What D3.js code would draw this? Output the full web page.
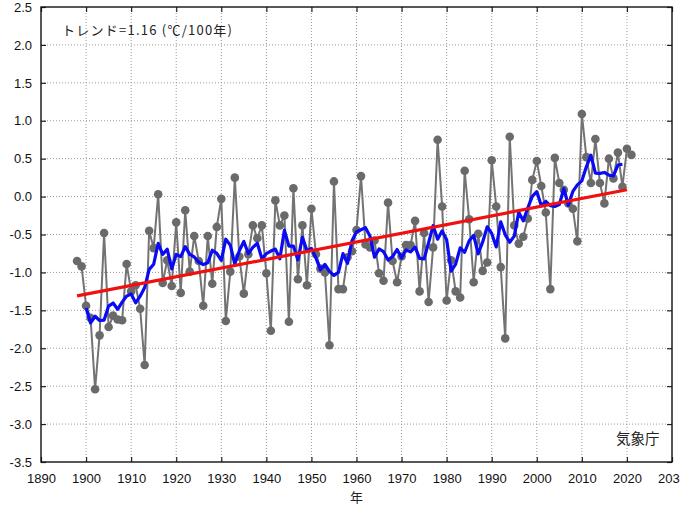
<!DOCTYPE html>
<html>
<head>
<meta charset="utf-8">
<title>年平均気温偏差</title>
<script src="https://d3js.org/d3.v7.min.js" charset="utf-8"></script>
<style>
  html, body { margin: 0; padding: 0; background: #fff; }
  svg { display: block; }
</style>
</head>
<body>
<script>
// data
const firstYear = 1898;
const anomalies = [
  -0.85, -0.92, -1.44, -1.60, -2.54, -1.83, -0.48, -1.72, -1.57, -1.62, // 1898-1907
  -1.63, -0.89, -1.25, -1.17, -1.48, -2.22, -0.45, -0.68,  0.03, -1.14, // 1908-1917
  -0.84, -1.18, -0.34, -1.27, -0.18, -0.99, -0.52, -0.85, -1.44, -0.52, // 1918-1927
  -1.15, -0.40, -0.03, -1.64, -0.99,  0.25, -0.79, -1.28, -0.76, -0.38, // 1928-1937
  -0.55, -0.38, -1.01, -1.77, -0.05, -0.38, -0.25, -1.65,  0.11, -1.09, // 1938-1947
  -0.38, -1.17, -0.16, -0.76, -0.95, -1.00, -1.96,  0.20, -1.22, -1.22, // 1948-1957
  -0.80, -0.72, -0.44,  0.27, -0.63, -0.67, -0.58, -1.01, -1.11, -0.08, // 1958-1967
  -0.85, -1.13, -0.79, -0.64, -0.64, -0.32, -1.25, -0.48, -1.39, -0.67, // 1968-1977
   0.75, -0.13, -1.37, -0.84, -1.25, -1.33,  0.34, -0.30, -1.13, -0.49, // 1978-1987
  -0.98, -0.87,  0.48, -0.13, -0.93, -1.87,  0.79, -0.38, -0.62, -0.53, // 1988-1997
  -0.29,  0.22,  0.47,  0.14, -0.21, -1.22,  0.51,  0.18,  0.09, -0.09, // 1998-2007
  -0.16, -0.59,  1.09,  0.52,  0.18,  0.76,  0.18, -0.09,  0.50,  0.24, // 2008-2017
   0.58,  0.13,  0.63,  0.55                                             // 2018-2021
];
const years = anomalies.map((v, i) => firstYear + i);

// trend line end points
const trendYears = [1898, 2020];
const trendValues = [-1.31, 0.09];

const xTicks = d3.range(1890, 2031, 10);
const yTicks = d3.range(-3.5, 2.51, 0.5);

const trendLabel = "トレンド=1.16 (℃/100年)";
const sourceLabel = "気象庁";
const xTitle = "年";

// 5-year centred running mean of the annual values
const running = [];
for (let i = 2; i < anomalies.length - 2; i++) {
  running.push({ year: years[i], value: d3.mean(anomalies.slice(i - 2, i + 3)) });
}

const width = 680, height = 513;
const margin = { top: 7, right: 8, bottom: 51, left: 41 };

const svg = d3.select("body").append("svg")
  .attr("width", width)
  .attr("height", height);

const x = d3.scaleLinear().domain([1890, 2030]).range([margin.left, width - margin.right]);
const y = d3.scaleLinear().domain([-3.5, 2.5]).range([height - margin.bottom, margin.top]);

const tickFont = "'Liberation Sans', Arial, sans-serif";

// grid
svg.append("g")
  .selectAll("line")
  .data(xTicks.slice(1, -1))
  .join("line")
  .attr("x1", d => x(d)).attr("x2", d => x(d))
  .attr("y1", y(2.5)).attr("y2", y(-3.5))
  .attr("stroke", "#9a9a9a").attr("stroke-width", 1).attr("stroke-dasharray", "1,2");

svg.append("g")
  .selectAll("line")
  .data(yTicks.slice(1, -1))
  .join("line")
  .attr("x1", x(1890)).attr("x2", x(2030))
  .attr("y1", d => y(d)).attr("y2", d => y(d))
  .attr("stroke", "#9a9a9a").attr("stroke-width", 1).attr("stroke-dasharray", "1,2");

// axes (ticks inside, mirrored)
const tickLen = 5;
const bottomAxis = svg.append("g")
  .attr("transform", `translate(0,${y(-3.5)})`)
  .call(d3.axisBottom(x).tickValues(xTicks).tickFormat(d3.format("d")).tickSize(-tickLen).tickPadding(12));
const leftAxis = svg.append("g")
  .attr("transform", `translate(${x(1890)},0)`)
  .call(d3.axisLeft(y).tickValues(yTicks).tickFormat(d3.format(".1f")).tickSize(-tickLen).tickPadding(9));
const topAxis = svg.append("g")
  .attr("transform", `translate(0,${y(2.5)})`)
  .call(d3.axisTop(x).tickValues(xTicks).tickFormat("").tickSize(-tickLen));
const rightAxis = svg.append("g")
  .attr("transform", `translate(${x(2030)},0)`)
  .call(d3.axisRight(y).tickValues(yTicks).tickFormat("").tickSize(-tickLen));

[bottomAxis, leftAxis, topAxis, rightAxis].forEach(g => {
  g.select(".domain").remove();
  g.selectAll(".tick line").attr("stroke", "#222").attr("stroke-width", 1.2);
  g.selectAll("text")
    .attr("fill", "#111")
    .style("font-family", tickFont)
    .style("font-size", "13px");
});
leftAxis.selectAll("text").text(d => d3.format(".1f")(d).replace("−", "-"));

// frame
svg.append("rect")
  .attr("x", x(1890)).attr("y", y(2.5))
  .attr("width", x(2030) - x(1890)).attr("height", y(-3.5) - y(2.5))
  .attr("fill", "none").attr("stroke", "#111").attr("stroke-width", 1.4);

// annual values
const line = d3.line().x(d => x(d[0])).y(d => y(d[1]));
const pts = years.map((yr, i) => [yr, anomalies[i]]);

svg.append("path")
  .datum(pts)
  .attr("d", line)
  .attr("fill", "none")
  .attr("stroke", "#737373")
  .attr("stroke-width", 2);

svg.append("g")
  .selectAll("circle")
  .data(pts)
  .join("circle")
  .attr("cx", d => x(d[0]))
  .attr("cy", d => y(d[1]))
  .attr("r", 4.3)
  .attr("fill", "#6a6a6a");

// running mean
svg.append("path")
  .datum(running.map(d => [d.year, d.value]))
  .attr("d", line)
  .attr("fill", "none")
  .attr("stroke", "#0a0af5")
  .attr("stroke-width", 3.2)
  .attr("stroke-linejoin", "round");

// trend
svg.append("path")
  .datum(trendYears.map((yr, i) => [yr, trendValues[i]]))
  .attr("d", line)
  .attr("fill", "none")
  .attr("stroke", "#f01010")
  .attr("stroke-width", 3.2);

// labels
svg.append("text")
  .attr("x", 62).attr("y", 35)
  .attr("textLength", 170)
  .style("font-family", "'Noto Sans CJK JP', sans-serif")
  .style("font-size", "13px")
  .attr("fill", "#222")
  .text(trendLabel);

svg.append("text")
  .attr("x", 616).attr("y", 444)
  .style("font-family", "'Noto Sans CJK JP', sans-serif")
  .style("font-size", "14.5px")
  .attr("fill", "#222")
  .text(sourceLabel);

svg.append("text")
  .attr("x", x(1960)).attr("y", 502)
  .attr("text-anchor", "middle")
  .style("font-family", "'Noto Sans CJK JP', sans-serif")
  .style("font-size", "13px")
  .attr("fill", "#222")
  .text(xTitle);
</script>
</body>
</html>
